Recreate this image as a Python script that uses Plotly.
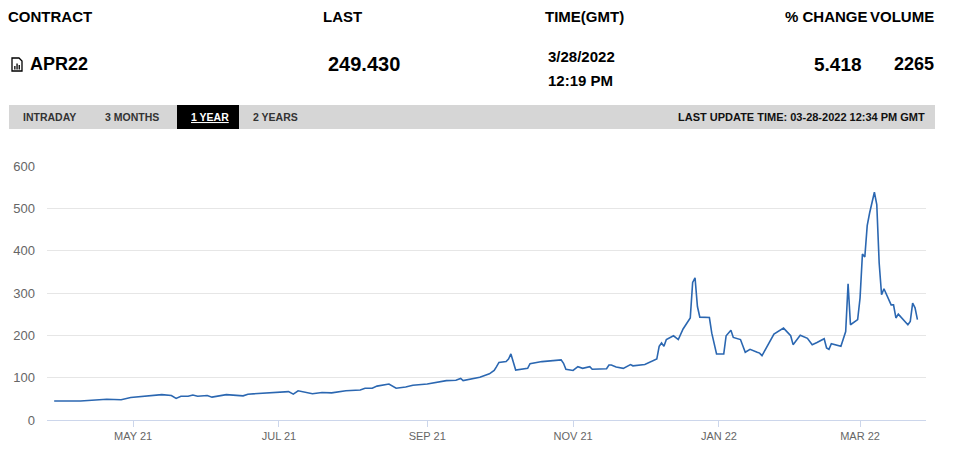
import plotly.graph_objects as go

# price history (1 year view)
dates = [
    "2021-03-29", "2021-04-09", "2021-04-20", "2021-04-26", "2021-04-30", "2021-05-07",
    "2021-05-13", "2021-05-17", "2021-05-19", "2021-05-21", "2021-05-24", "2021-05-26",
    "2021-05-28", "2021-06-01", "2021-06-03", "2021-06-09", "2021-06-16", "2021-06-18",
    "2021-06-24", "2021-06-30", "2021-07-05", "2021-07-07", "2021-07-09", "2021-07-15",
    "2021-07-19", "2021-07-23", "2021-07-29", "2021-08-04", "2021-08-06", "2021-08-09",
    "2021-08-11", "2021-08-16", "2021-08-19", "2021-08-23", "2021-08-26", "2021-09-01",
    "2021-09-06", "2021-09-09", "2021-09-13", "2021-09-15", "2021-09-16", "2021-09-20",
    "2021-09-23", "2021-09-27", "2021-09-29", "2021-09-30", "2021-10-01", "2021-10-04",
    "2021-10-05", "2021-10-06", "2021-10-07", "2021-10-08", "2021-10-13", "2021-10-14",
    "2021-10-19", "2021-10-26", "2021-10-27", "2021-10-28", "2021-10-29", "2021-11-01",
    "2021-11-03", "2021-11-05", "2021-11-08", "2021-11-09", "2021-11-15", "2021-11-16",
    "2021-11-17", "2021-11-19", "2021-11-22", "2021-11-25", "2021-11-26", "2021-12-01",
    "2021-12-03", "2021-12-06", "2021-12-07", "2021-12-08", "2021-12-09", "2021-12-10",
    "2021-12-13", "2021-12-15", "2021-12-17", "2021-12-20", "2021-12-21", "2021-12-22",
    "2021-12-23", "2021-12-24", "2021-12-28", "2021-12-29", "2021-12-31", "2022-01-03",
    "2022-01-04", "2022-01-06", "2022-01-07", "2022-01-10", "2022-01-12", "2022-01-14",
    "2022-01-17", "2022-01-18", "2022-01-19", "2022-01-24", "2022-01-28", "2022-01-31",
    "2022-02-01", "2022-02-04", "2022-02-07", "2022-02-09", "2022-02-11", "2022-02-14",
    "2022-02-15", "2022-02-16", "2022-02-17", "2022-02-21", "2022-02-23", "2022-02-24",
    "2022-02-25", "2022-02-28", "2022-03-01", "2022-03-02", "2022-03-03", "2022-03-04",
    "2022-03-05", "2022-03-07", "2022-03-08", "2022-03-09", "2022-03-10", "2022-03-11",
    "2022-03-14", "2022-03-15", "2022-03-16", "2022-03-17", "2022-03-21", "2022-03-22",
    "2022-03-23", "2022-03-24", "2022-03-25",
]
prices = [
    45, 45, 49, 48, 53, 56,
    60, 58, 51, 56, 56, 59,
    56, 58, 54, 60, 57, 61,
    63, 66, 67, 61, 69, 62,
    65, 64, 69, 71, 75, 75,
    80, 85, 75, 78, 82, 85,
    89, 93, 94, 98, 93, 97,
    101, 109, 117, 126, 136, 138,
    144, 156, 138, 118, 122, 133,
    138, 140, 142, 134, 120, 117,
    126, 122, 126, 120, 121, 130,
    130, 125, 122, 131, 128, 131,
    137, 144, 174, 182, 174, 190,
    199, 190, 215, 241, 325, 336,
    268, 243, 242, 205, 156, 156,
    199, 212, 195, 190, 160, 167,
    160, 158, 152, 203, 217, 199,
    178, 200, 193, 178, 183, 192,
    170, 167, 180, 174, 209, 322,
    225, 237, 288, 392, 385, 459,
    489, 538, 509, 371, 296, 310,
    272, 272, 241, 250, 225, 233,
    276, 265, 237,
]

tick_dates = ["2021-05-01", "2021-07-01", "2021-09-01", "2021-11-01", "2022-01-01", "2022-03-01"]
tick_text = ["MAY 21", "JUL 21", "SEP 21", "NOV 21", "JAN 22", "MAR 22"]

W, H = 958, 454
L, R, T, B = 47, 32, 166, 34
FONT = "Liberation Sans, Arial, sans-serif"


# page pixels -> paper coords
def px(x):
    return (x - L) / (W - L - R)


def py(y):
    return (H - B - y) / (H - T - B)


fig = go.Figure()
fig.add_trace(go.Scatter(x=dates, y=prices, mode="lines",
                         line=dict(color="#2b67b1", width=1.6),
                         hoverinfo="x+y"))

ann = []


def label(x, y, text, size, anchor="left", color="#000000"):
    ann.append(dict(x=px(x), y=py(y), xref="paper", yref="paper", text=text,
                    xanchor=anchor, yanchor="middle", showarrow=False,
                    font=dict(family=FONT, size=size, color=color)))


# header
label(6, 17, "<b>CONTRACT</b>", 15)
label(321, 17, "<b>LAST</b>", 15)
label(543, 17, "<b>TIME(GMT)</b>", 15)
label(783, 17, "<b>% CHANGE</b>", 15)
label(936, 17, "<b>VOLUME</b>", 15, "right")
label(28, 64, "<b>APR22</b>", 18)
label(326, 64, "<b>249.430</b>", 20)
label(546, 56, "<b>3/28/2022</b>", 15)
label(546, 81, "<b>12:19 PM</b>", 15)
label(864, 64, "<b>5.418</b>", 19, "right")
label(936, 64, "<b>2265</b>", 18, "right")

# tab bar text
label(21, 117, "<b>INTRADAY</b>", 10.5, color="#333333")
label(103, 117, "<b>3 MONTHS</b>", 10.5, color="#333333")
label(189, 117, "<b><u>1 YEAR</u></b>", 10.5, color="#ffffff")
label(251, 117, "<b>2 YEARS</b>", 10.5, color="#333333")
label(927, 117, "<b>LAST UPDATE TIME: 03-28-2022 12:34 PM GMT</b>", 11, "right", "#111111")


def pth(points):
    return "M" + " L".join(f"{px(a):.5f},{py(b):.5f}" for a, b in points) + " Z"


shapes = [
    dict(type="rect", xref="paper", yref="paper", x0=px(9), x1=px(935), y0=py(105), y1=py(129),
         fillcolor="#d6d6d6", line=dict(width=0), layer="below"),
    dict(type="rect", xref="paper", yref="paper", x0=px(177), x1=px(239), y0=py(105), y1=py(129),
         fillcolor="#000000", line=dict(width=0), layer="below"),
    # small document/chart icon
    dict(type="path", xref="paper", yref="paper",
         path=pth([(12, 58), (19, 58), (22, 61), (22, 71), (12, 71)]),
         fillcolor="#ffffff", line=dict(color="#000000", width=1.3)),
]
for x0, ytop in [(14.2, 66), (16.4, 63.5), (18.6, 65)]:
    shapes.append(dict(type="rect", xref="paper", yref="paper", x0=px(x0), x1=px(x0 + 1.3),
                       y0=py(69.5), y1=py(ytop), fillcolor="#000000", line=dict(width=0)))

fig.update_layout(
    width=W, height=H,
    margin=dict(l=L, r=R, t=T, b=B),
    paper_bgcolor="#ffffff", plot_bgcolor="#ffffff",
    showlegend=False,
    annotations=ann, shapes=shapes,
    font=dict(family=FONT),
    xaxis=dict(range=["2021-03-26", "2022-03-28 14:00"], tickvals=tick_dates, ticktext=tick_text,
               showgrid=False, showline=True, linecolor="#ccd6eb", linewidth=1,
               ticks="outside", ticklen=6, tickcolor="#ccd6eb",
               tickfont=dict(family=FONT, size=11, color="#666666"), fixedrange=True),
    yaxis=dict(range=[0, 600], dtick=100, showgrid=True, gridcolor="#e6e6e6", zeroline=False,
               showline=False, ticks="", ticklabelstandoff=11,
               tickfont=dict(family=FONT, size=13, color="#666666"), fixedrange=True),
)

fig.write_html("out.html", config={"displayModeBar": False},
               post_script="document.body.style.margin='0px';")
